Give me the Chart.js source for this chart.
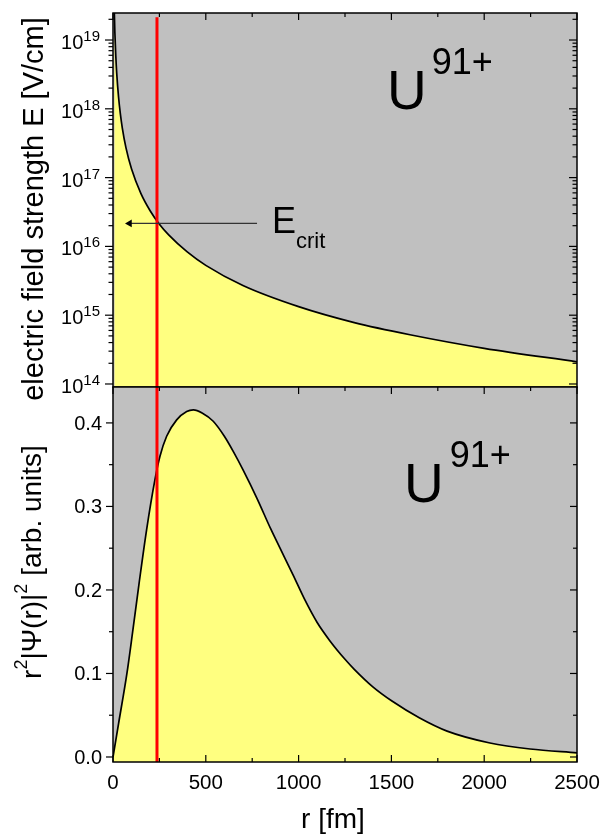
<!DOCTYPE html>
<html>
<head>
<meta charset="utf-8">
<script src="https://cdn.jsdelivr.net/npm/chart.js@4.4.1/dist/chart.umd.min.js"></script>
<style>
  body { margin: 0; background: #fff; width: 603px; height: 834px; position: relative; overflow: hidden; }
  .panel { position: absolute; left: 0; width: 603px; }
  #panelArriba { top: 0; height: 400px; }
  #panelAbajo { top: 374px; height: 460px; }
</style>
</head>
<body>
<div class="panel" id="panelArriba"><canvas id="cArriba"></canvas></div>
<div class="panel" id="panelAbajo"><canvas id="cAbajo"></canvas></div>
<script>
const rCampo = [7, 10, 15, 20, 30, 40, 50, 70, 100, 150, 200, 250, 300, 400, 500, 700, 1000, 1300, 1600, 2000, 2500];
const eCampo = [2.6e19, 1.3e19, 5.9e18, 3.3e18, 1.47e18, 8.3e17, 5.3e17, 2.7e17, 1.33e17, 5.9e16, 3.3e16, 2.1e16,
                1.47e16, 8.3e15, 5.3e15, 2.7e15, 1.33e15, 7.8e14, 5.2e14, 3.3e14, 2.1e14];

const rOnda = [0, 30, 75, 106, 140, 181, 226, 253, 289, 343, 397, 433, 480, 540, 600, 650, 700, 775, 850, 900,
               970, 1034, 1100, 1169, 1250, 1300, 1400, 1503, 1650, 1800, 2031, 2247, 2500];
const psiOnda = [0, 0.04, 0.1, 0.15, 0.207, 0.272, 0.332, 0.36, 0.384, 0.4036, 0.4136, 0.4156, 0.412, 0.402,
                 0.384, 0.365, 0.344, 0.31, 0.273, 0.25, 0.218, 0.188, 0.161, 0.139, 0.117, 0.105, 0.084, 0.067,
                 0.047, 0.031, 0.0168, 0.0096, 0.005];

// Radio crítico (línea roja) y flecha de E_crit
const rCrit = 237;
const eCrit = 2.16e16;
const flechaR = [89, 776];

// Ejes
const eMin = 9.04e13, eMax = 2.47e19, eRojaTope = 2.15e19;
const psiMin = -0.006, psiMax = 0.443;
const ticksX = [0, 500, 1000, 1500, 2000, 2500];
const ticksXMenor = [250, 750, 1250, 1750, 2250];
const decadas = [14, 15, 16, 17, 18, 19];
const ticksPsi = [0, 0.1, 0.2, 0.3, 0.4];
const etiquetasPsi = ['0.0', '0.1', '0.2', '0.3', '0.4'];
const ticksPsiMenor = [0.05, 0.15, 0.25, 0.35];

const FUENTE = '"Liberation Sans", Arial, sans-serif';
const fuente = px => px + 'px ' + FUENTE;

function linea(ctx, x1, y1, x2, y2) {
    ctx.beginPath();
    ctx.moveTo(x1, y1);
    ctx.lineTo(x2, y2);
    ctx.stroke();
}

// Texto con superíndice/subíndice: piezas [texto, tamaño, desplazamiento vertical, hueco previo]
function textoCompuesto(ctx, piezas, x, y, alinear) {
    let total = 0;
    piezas.forEach(p => { ctx.font = fuente(p[1]); total += ctx.measureText(p[0]).width + (p[3] || 0); });
    let cx = alinear === 'center' ? x - total / 2 : (alinear === 'right' ? x - total : x);
    ctx.textAlign = 'left';
    ctx.textBaseline = 'alphabetic';
    piezas.forEach(p => {
        ctx.font = fuente(p[1]);
        cx += (p[3] || 0);
        ctx.fillText(p[0], cx, y + p[2]);
        cx += ctx.measureText(p[0]).width;
    });
}

// Fondo gris del área de trazado
const fondoGris = {
    id: 'fondoGris',
    beforeDraw(chart) {
        const { ctx, chartArea: a } = chart;
        ctx.save();
        ctx.fillStyle = '#c0c0c0';
        ctx.fillRect(a.left, a.top, a.right - a.left, a.bottom - a.top);
        ctx.restore();
    }
};

function marco(ctx, a) {
    ctx.strokeStyle = '#000';
    ctx.lineWidth = 1.5;
    ctx.strokeRect(a.left, a.top, a.right - a.left, a.bottom - a.top);
}

// Panel superior: ejes, marcas y textos
const adornosArriba = {
    id: 'adornosArriba',
    afterDraw(chart) {
        const { ctx, chartArea: a, scales } = chart;
        const xs = scales.x, ys = scales.y;
        ctx.save();
        marco(ctx, a);
        ctx.lineWidth = 1.2;
        ticksX.forEach(v => { const px = xs.getPixelForValue(v); linea(ctx, px, a.top, px, a.top + 7); });
        ticksXMenor.forEach(v => { const px = xs.getPixelForValue(v); linea(ctx, px, a.top, px, a.top + 4); });
        for (let n = 13; n <= 19; n++) {
            for (let k = 1; k <= 9; k++) {
                const v = k * Math.pow(10, n);
                if (v < eMin || v > eMax) continue;
                const py = ys.getPixelForValue(v);
                const largo = k === 1 ? 8 : 4.5;
                linea(ctx, a.left - largo, py, a.left, py);
                linea(ctx, a.right - largo, py, a.right, py);
            }
        }
        ctx.fillStyle = '#000';
        decadas.forEach(n => {
            const py = ys.getPixelForValue(Math.pow(10, n));
            textoCompuesto(ctx, [['10', 20, 9], [String(n), 15, 1]], 100, py, 'right');
        });
        // título del eje Y
        ctx.save();
        ctx.translate(43, 209);
        ctx.rotate(-Math.PI / 2);
        ctx.font = fuente(29);
        ctx.textAlign = 'center';
        ctx.textBaseline = 'alphabetic';
        ctx.fillText('electric field strength E [V/cm]', 0, 0);
        ctx.restore();
        textoCompuesto(ctx, [['U', 55, 0], ['91+', 36, -35, 5]], 387, 109, 'left');
        textoCompuesto(ctx, [['E', 36, 0], ['crit', 22, 15.5]], 272, 232.5, 'left');
        ctx.restore();
    }
};

// Panel inferior: ejes, marcas y textos
const adornosAbajo = {
    id: 'adornosAbajo',
    afterDraw(chart) {
        const { ctx, chartArea: a, scales } = chart;
        const xs = scales.x, ys = scales.y;
        ctx.save();
        marco(ctx, a);
        ctx.lineWidth = 1.2;
        ticksX.forEach(v => {
            const px = xs.getPixelForValue(v);
            linea(ctx, px, a.top, px, a.top + 7);
            linea(ctx, px, a.bottom - 7, px, a.bottom);
        });
        ticksXMenor.forEach(v => {
            const px = xs.getPixelForValue(v);
            linea(ctx, px, a.top, px, a.top + 4);
            linea(ctx, px, a.bottom - 4, px, a.bottom);
        });
        ticksPsi.forEach(v => {
            const py = ys.getPixelForValue(v);
            linea(ctx, a.left - 7, py, a.left, py);
            linea(ctx, a.right - 7, py, a.right, py);
        });
        ticksPsiMenor.forEach(v => {
            const py = ys.getPixelForValue(v);
            linea(ctx, a.left - 4, py, a.left, py);
            linea(ctx, a.right - 4, py, a.right, py);
        });
        ctx.fillStyle = '#000';
        ctx.font = fuente(20);
        ctx.textAlign = 'right';
        ctx.textBaseline = 'alphabetic';
        ticksPsi.forEach((v, i) => ctx.fillText(etiquetasPsi[i], 102, ys.getPixelForValue(v) + 7));
        ctx.font = fuente(20.5);
        ctx.textAlign = 'center';
        ticksX.forEach(v => ctx.fillText(String(v), xs.getPixelForValue(v), a.bottom + 27));
        ctx.font = fuente(28);
        ctx.fillText('r [fm]', 333, a.bottom + 66);
        // título del eje Y con superíndices
        ctx.save();
        ctx.translate(41, 188);
        ctx.rotate(-Math.PI / 2);
        textoCompuesto(ctx, [['r', 28, 0], ['2', 18, -14], ['|\u03A8(r)|', 28, 0], ['2', 18, -14], [' [arb. units]', 28, 0]], 0, 0, 'center');
        ctx.restore();
        textoCompuesto(ctx, [['U', 55, 0], ['91+', 36, -35, 6]], 404, 128, 'left');
        ctx.restore();
    }
};

const opcionesBase = (yCfg, padBottom) => ({
    responsive: true,
    maintainAspectRatio: false,
    animation: false,
    events: [],
    layout: { padding: { left: 113, right: 26, top: 13, bottom: padBottom } },
    plugins: { legend: { display: false }, tooltip: { enabled: false } },
    scales: {
        x: { type: 'linear', min: 0, max: 2500, display: false },
        y: yCfg
    }
});

new Chart(document.getElementById('cArriba'), {
    type: 'line',
    data: {
        datasets: [
            {
                data: flechaR.map(r => ({ x: r, y: eCrit })),
                borderColor: '#333', borderWidth: 1.2,
                pointStyle: 'triangle', rotation: -90,
                pointRadius: [4.5, 0], pointBackgroundColor: '#000', pointBorderColor: '#000', pointBorderWidth: 0,
                fill: false, order: 1
            },
            {
                data: [{ x: rCrit, y: eMin }, { x: rCrit, y: eRojaTope }],
                borderColor: '#ff0000', borderWidth: 3, pointRadius: 0, fill: false, order: 2
            },
            {
                data: rCampo.map((r, i) => ({ x: r, y: eCampo[i] })),
                borderColor: '#000', borderWidth: 1.7, pointRadius: 0,
                backgroundColor: '#ffff80', fill: 'start',
                cubicInterpolationMode: 'monotone', order: 3
            }
        ]
    },
    options: opcionesBase({ type: 'logarithmic', min: eMin, max: eMax, display: false }, 13),
    plugins: [fondoGris, adornosArriba]
});

new Chart(document.getElementById('cAbajo'), {
    type: 'line',
    data: {
        datasets: [
            {
                data: [{ x: rCrit, y: psiMin }, { x: rCrit, y: psiMax }],
                borderColor: '#ff0000', borderWidth: 3, pointRadius: 0, fill: false, order: 1
            },
            {
                data: rOnda.map((r, i) => ({ x: r, y: psiOnda[i] })),
                borderColor: '#000', borderWidth: 1.7, pointRadius: 0,
                backgroundColor: '#ffff80', fill: 'start',
                cubicInterpolationMode: 'monotone', order: 2
            }
        ]
    },
    options: opcionesBase({ type: 'linear', min: psiMin, max: psiMax, display: false }, 72),
    plugins: [fondoGris, adornosAbajo]
});
</script>
</body>
</html>
